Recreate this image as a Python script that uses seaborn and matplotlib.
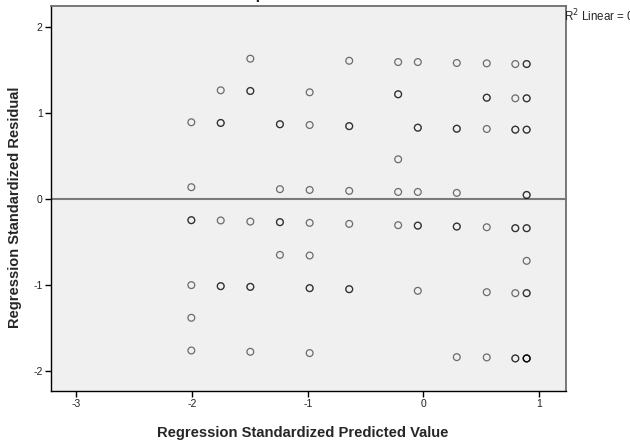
import matplotlib
matplotlib.use("Agg")
import matplotlib.pyplot as plt
import seaborn as sns
import pandas as pd

# Standardized predicted values (x) and standardized residuals (y).
# Repeated pairs are cases that share the same position.
pred_std = [
    -2.007, -2.007, -2.007, -2.007, -2.007, -2.007, -2.007,
    -1.753, -1.753, -1.753, -1.753, -1.753, -1.753,
    -1.497, -1.497, -1.497, -1.497, -1.497, -1.497, -1.497,
    -1.241, -1.241, -1.241, -1.241, -1.241, -1.241,
    -0.984, -0.984, -0.984, -0.984, -0.984, -0.984, -0.984, -0.984,
    -0.642, -0.642, -0.642, -0.642, -0.642, -0.642, -0.642,
    -0.219, -0.219, -0.219, -0.219, -0.219, -0.219,
    -0.049, -0.049, -0.049, -0.049, -0.049, -0.049, -0.049,
    0.288, 0.288, 0.288, 0.288, 0.288, 0.288, 0.288,
    0.547, 0.547, 0.547, 0.547, 0.547, 0.547, 0.547,
    0.794, 0.794, 0.794, 0.794, 0.794, 0.794, 0.794, 0.794, 0.794,
    0.892, 0.892, 0.892, 0.892, 0.892, 0.892, 0.892, 0.892, 0.892,
    0.892, 0.892, 0.892, 0.892, 0.892, 0.892, 0.892, 0.892,
]
resid_std = [
    0.890, 0.136, -0.247, -0.247, -1.001, -1.380, -1.760,
    1.261, 0.882, 0.882, -0.250, -1.013, -1.013,
    1.628, 1.253, 1.253, -0.263, -1.021, -1.021, -1.775,
    0.867, 0.867, 0.113, -0.270, -0.270, -0.650,
    1.238, 0.858, 0.104, -0.278, -0.657, -1.036, -1.036, -1.790,
    1.604, 0.845, 0.845, 0.093, -0.290, -1.048, -1.048,
    1.589, 1.215, 1.215, 0.460, 0.081, -0.305,
    1.589, 0.827, 0.827, 0.081, -0.310, -0.310, -1.067,
    1.578, 0.815, 0.815, 0.070, -0.321, -0.321, -1.837,
    1.574, 1.175, 1.175, 0.812, -0.329, -1.083, -1.840,
    1.566, 1.168, 0.804, 0.804, -0.340, -0.340, -1.094, -1.852, -1.852,
    1.566, 1.566, 1.168, 1.168, 0.804, 0.804, 0.046, 0.046, -0.340,
    -0.340, -0.719, -1.094, -1.094, -1.852, -1.852, -1.852, -1.852,
]

x_ticks = [-3, -2, -1, 0, 1]
y_ticks = [-2, -1, 0, 1, 2]
x_label = "Regression Standardized Predicted Value"
y_label = "Regression Standardized Residual"
fit_note = "R$^2$ Linear = 0.000"

df = pd.DataFrame({"pred": pred_std, "resid": resid_std})

sns.set_style("white")
plt.rcParams["font.family"] = ["Liberation Sans", "DejaVu Sans"]

fig = plt.figure(figsize=(6.3, 4.4), dpi=100)
ax = fig.add_axes([0.081, 0.1114, 0.817, 0.875])
ax.set_facecolor("#F0F0F0")

# zero reference line
ax.axhline(0, color="#7A7A7A", lw=1.5, zorder=1)

sns.scatterplot(
    data=df, x="pred", y="resid", ax=ax,
    marker="o", s=24, facecolor="none", edgecolor="black",
    linewidth=0.9, alpha=0.55, zorder=3,
)

ax.set_xlim(-3.22, 1.23)
ax.set_ylim(-2.23, 2.24)
ax.set_xticks(x_ticks)
ax.set_yticks(y_ticks)
ax.set_xticklabels([str(v) for v in x_ticks])
ax.set_yticklabels([str(v) for v in y_ticks])
ax.tick_params(axis="both", which="both", direction="out", length=4,
               width=1, color="black", labelsize=7.5, labelcolor="#222222",
               pad=2, left=True, bottom=True)

for side in ("left", "bottom"):
    ax.spines[side].set_color("black")
    ax.spines[side].set_linewidth(1.0)
for side in ("top", "right"):
    ax.spines[side].set_color("#6E6E6E")
    ax.spines[side].set_linewidth(1.3)

ax.set_xlabel(x_label, fontsize=10.6, fontweight="bold")
ax.set_ylabel(y_label, fontsize=10.5, fontweight="bold")
ax.xaxis.set_label_coords(0.488, -0.09)
ax.yaxis.set_label_coords(-0.057, 0.478)

fig.text(0.896, 0.963, fit_note, fontsize=8.4, ha="left", va="center")
fig.text(0.316, 1.003, "Scatterplot", fontsize=12, fontweight="bold",
         ha="left", va="baseline")

fig.savefig("out.png", dpi=100)
